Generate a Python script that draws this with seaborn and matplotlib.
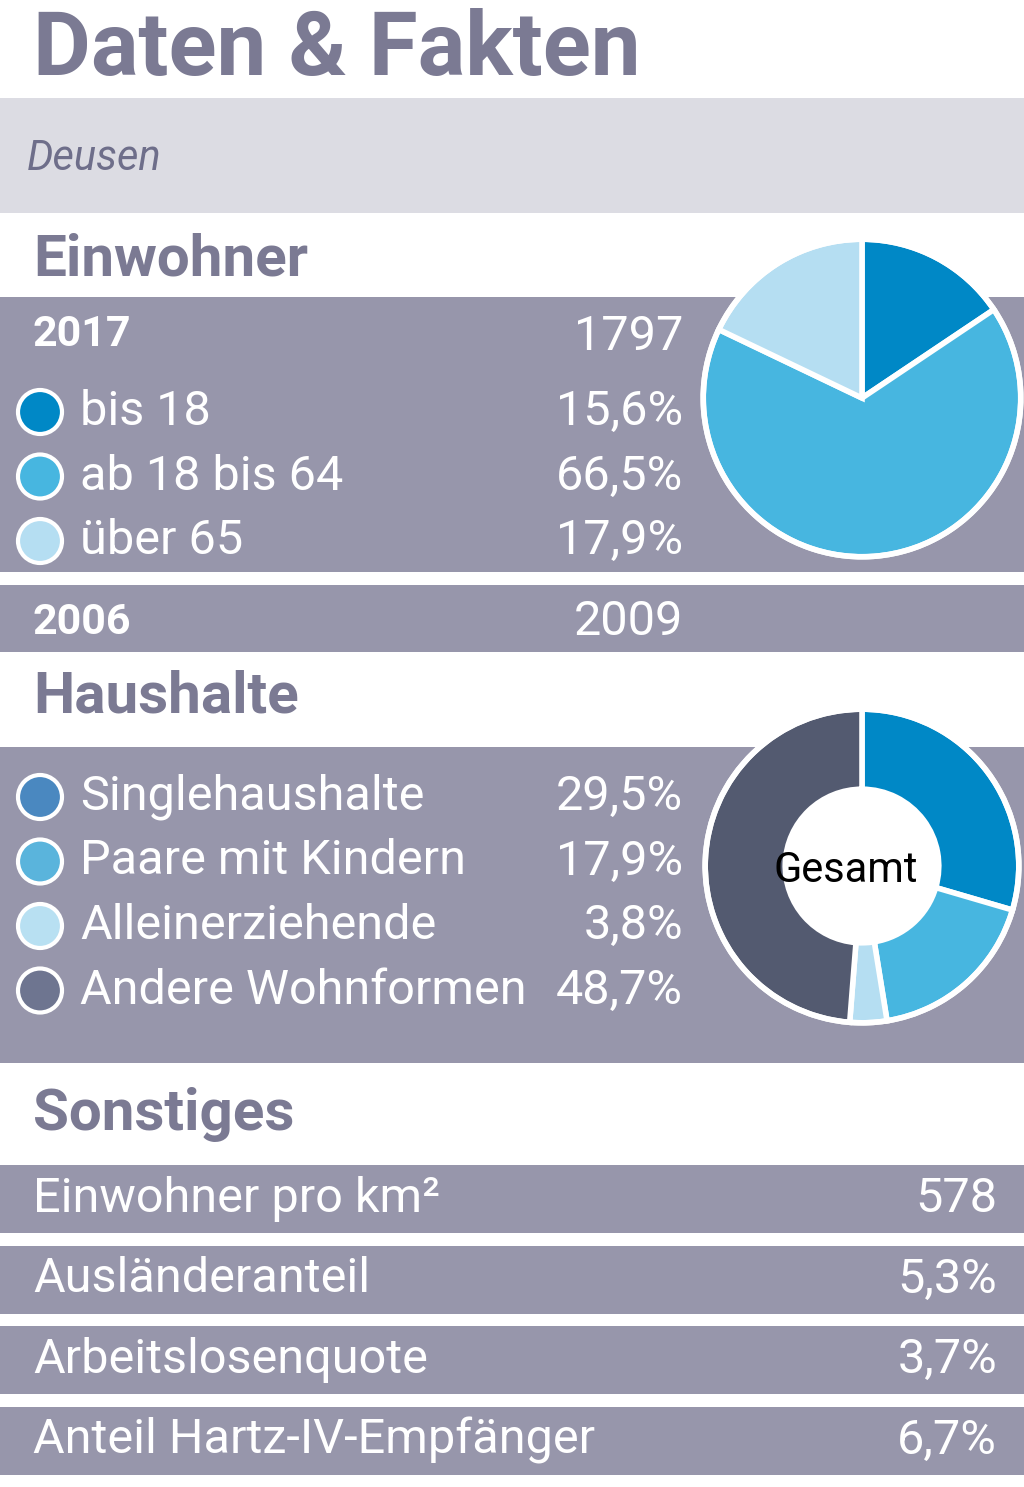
import matplotlib
matplotlib.use("Agg")
import matplotlib.pyplot as plt
from matplotlib.patches import Rectangle, Circle
import seaborn as sns

sns.set_theme(style="white")
FONT = "Roboto"

title = "Daten & Fakten"
place = "Deusen"
ew_labels = ["bis 18", "ab 18 bis 64", "über 65"]
ew_values = [15.6, 66.5, 17.9]
ew_texts = ["15,6%", "66,5%", "17,9%"]
ew_colors = ["#0088c6", "#47b6e0", "#b5def2"]
pop_years = ["2017", "2006"]
pop_values = ["1797", "2009"]
hh_labels = ["Singlehaushalte", "Paare mit Kindern", "Alleinerziehende", "Andere Wohnformen"]
hh_values = [29.5, 17.9, 3.8, 48.7]
hh_texts = ["29,5%", "17,9%", "3,8%", "48,7%"]
hh_colors = ["#0088c6", "#47b6e0", "#b5def2", "#535a70"]
hh_dot_colors = ["#4a88c0", "#5ab4dc", "#b8e0f2", "#6e7590"]
misc_labels = ["Einwohner pro km²", "Ausländeranteil", "Arbeitslosenquote", "Anteil Hartz-IV-Empfänger"]
misc_values = ["578", "5,3%", "3,7%", "6,7%"]

W, H = 1024, 1487
BAND = "#9796ab"
HEAD = "#7b7a93"
fig = plt.figure(figsize=(W / 100, H / 100), dpi=100)
ax = fig.add_axes([0, 0, 1, 1])
ax.set_xlim(0, W); ax.set_ylim(H, 0); ax.axis("off")

def band(y0, y1, c=BAND):
    ax.add_patch(Rectangle((0, y0), W, y1 - y0, color=c, lw=0))

def txt(x, y, s, size=36, c="white", ha="left", w="normal", style="normal"):
    ax.text(x, y, s, fontsize=size, color=c, ha=ha, va="center", fontweight=w,
            fontstyle=style, family=FONT)

txt(33, 50, title, size=64, c=HEAD, w="bold")
band(98, 213, "#dcdce3")
txt(27, 158, place, size=30, c="#6e6e8a", style="italic")

txt(33, 260, "Einwohner", size=42, c=HEAD, w="bold")
band(297, 572)
txt(33, 335, pop_years[0], size=31, w="bold")
txt(683, 337, pop_values[0], size=35, ha="right")
for i, (l, t, c) in enumerate(zip(ew_labels, ew_texts, ew_colors)):
    y = 412 + i * 64.5
    ax.add_patch(Circle((40, y), 22, facecolor=c, edgecolor="white", lw=3))
    txt(80, y, l, size=35)
    txt(683, y, t, size=35, ha="right")
band(585, 652)
txt(33, 622, pop_years[1], size=31, w="bold")
txt(683, 622, pop_values[1], size=35, ha="right")

txt(33, 697, "Haushalte", size=42, c=HEAD, w="bold")
band(747, 1063)
for i, (l, t, c) in enumerate(zip(hh_labels, hh_texts, hh_dot_colors)):
    y = 797 + i * 64.5
    ax.add_patch(Circle((40, y), 22, facecolor=c, edgecolor="white", lw=3))
    txt(80, y, l, size=35)
    txt(683, y, t, size=35, ha="right")

txt(33, 1115, "Sonstiges", size=42, c=HEAD, w="bold")
for i, (l, v) in enumerate(zip(misc_labels, misc_values)):
    y0 = 1165 + i * 80.5
    band(y0, y0 + 68)
    txt(33, y0 + 34, l, size=35)
    txt(997, y0 + 34, v, size=35, ha="right")

def pie_ax(cx, cy, r):
    a = fig.add_axes([(cx - r) / W, 1 - (cy + r) / H, 2 * r / W, 2 * r / H])
    return a

pa = pie_ax(862, 398, 162)
pa.pie(ew_values, colors=ew_colors, startangle=90, counterclock=False, radius=0.98,
       wedgeprops=dict(edgecolor="white", linewidth=4))
pa.add_patch(Circle((0, 0), 0.98, fill=False, edgecolor="white", lw=4))
pa.set_xlim(-1, 1); pa.set_ylim(-1, 1); pa.axis("off")

pb = pie_ax(862, 866, 160)
pb.pie(hh_values, colors=hh_colors, startangle=90, counterclock=False, radius=0.98,
       wedgeprops=dict(edgecolor="white", linewidth=4, width=0.5))
pb.add_patch(Circle((0, 0), 0.98, fill=False, edgecolor="white", lw=4))
pb.add_patch(Circle((0, 0), 0.49, facecolor="white", edgecolor="white", lw=0))
pb.set_xlim(-1, 1); pb.set_ylim(-1, 1); pb.axis("off")
pb.text(-0.1, -0.03, "Gesamt", ha="center", va="center", fontsize=30, family=FONT, color="black")

fig.savefig("out.png", dpi=100)
